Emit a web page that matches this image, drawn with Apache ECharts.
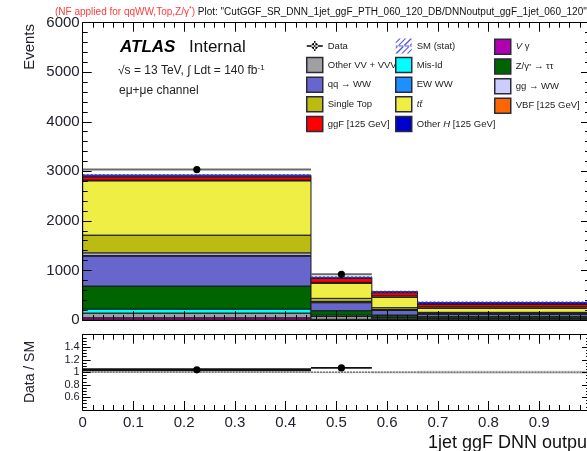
<!DOCTYPE html>
<html><head><meta charset="utf-8">
<script src="https://cdn.jsdelivr.net/npm/echarts@6/dist/echarts.min.js"></script>
<style>html,body{margin:0;padding:0;background:#fff}#c{width:587px;height:451px}</style>
</head><body><div id="c"></div>
<script>
// ---- data ----
const binEdges   = [0, 0.45, 0.57, 0.66, 1.0];
const vgamma     = [45, 15, 10, 5];
const otherVV    = [95, 55, 30, 20];
const misId      = [80, 30, 15, 12];
const zTauTau    = [465, 88, 45, 30];
const qqWW       = [605, 162, 95, 54];
const ewWW       = [15, 8, 5, 4];
const ggWW       = [50, 18, 12, 10];
const singleTop  = [358, 61, 37, 20];
const ttbar      = [1096, 303, 208, 80];
const vbf        = [15, 20, 30, 30];
const ggF        = [66, 80, 65, 52];
const otherH     = [30, 20, 20, 35];
const smStat     = [22, 12, 10, 8];
const dataBins   = [0, 1];
const dataValues = [3035, 921];
const dataErr    = [55, 30];
const ratioValues= [1.04, 1.07];
const ratioErr   = [0.02, 0.035];
const smRatioErr = [0.008, 0.014, 0.018, 0.024];

const FONT = "'Liberation Sans', Arial, sans-serif";
const procs = [
  ['Vgamma', vgamma, '#b000b0'],
  ['OtherVV', otherVV, '#a0a0a0'],
  ['MisId', misId, '#00ffff'],
  ['Ztautau', zTauTau, '#006400'],
  ['qqWW', qqWW, '#6666cc'],
  ['EWWW', ewWW, '#1e8fff'],
  ['ggWW', ggWW, '#ccccff'],
  ['SingleTop', singleTop, '#bbbb14'],
  ['ttbar', ttbar, '#eeee44'],
  ['VBF', vbf, '#ff6600'],
  ['ggF', ggF, '#ff0000'],
  ['OtherH', otherH, '#0000cc']
];
const labels = {
  Data: '{n|Data}', SMstat: '{n|SM (stat)}', Vgamma: '{i|V}{n| γ}', OtherVV: '{n|Other VV + VVV}',
  MisId: '{n|Mis-Id}', Ztautau: '{n|Z/γ}{s|*}{n| → ττ}', qqWW: '{n|qq → WW}', EWWW: '{n|EW WW}', ggWW: '{n|gg → WW}',
  SingleTop: '{n|Single Top}', ttbar: '{i|tt̄}', VBF: '{n|VBF [125 GeV]}', ggF: '{n|ggF [125 GeV]}',
  OtherH: '{n|Other }{i|H}{n| [125 GeV]}'
};

const series = [];
const base = binEdges.slice(0, -1).map(() => 0);
procs.forEach(([name, vals, color]) => {
  const data = vals.map((v, i) => [binEdges[i], binEdges[i + 1], base[i], base[i] + v]);
  vals.forEach((v, i) => base[i] += v);
  series.push({
    type: 'custom', name, xAxisIndex: 0, yAxisIndex: 0, z: 2,
    itemStyle: { color },
    data, encode: { x: [0, 1], y: [2, 3] },
    renderItem: (p, api) => {
      const a = api.coord([api.value(0), api.value(3)]);
      const b = api.coord([api.value(1), api.value(2)]);
      return { type: 'rect', shape: { x: a[0], y: a[1], width: b[0] - a[0], height: b[1] - a[1] },
        style: { fill: color, stroke: '#1a1a1a', lineWidth: 1 } };
    }
  });
});
// SM stat band on top of the stack
series.push({
  type: 'custom', name: 'SMstat', xAxisIndex: 0, yAxisIndex: 0, z: 3,
  itemStyle: { color: '#5a5ae0' },
  data: smStat.map((e, i) => [binEdges[i], binEdges[i + 1], base[i] - e, base[i] + e, base[i]]),
  encode: { x: [0, 1], y: [2, 3] },
  renderItem: (p, api) => {
    const a = api.coord([api.value(0), api.value(3)]);
    const b = api.coord([api.value(1), api.value(2)]);
    const c = api.coord([api.value(0), api.value(4)]);
    return { type: 'group', children: [
      { type: 'rect', shape: { x: a[0], y: a[1], width: b[0] - a[0], height: Math.max(1, b[1] - a[1]) },
        style: { fill: 'rgba(70,70,220,0.45)' } },
      { type: 'line', shape: { x1: a[0], y1: c[1], x2: b[0], y2: c[1] },
        style: { stroke: '#3030d0', lineWidth: 2, lineDash: [2, 2] } }
    ]};
  }
});
// Data points
series.push({
  type: 'custom', name: 'Data', xAxisIndex: 0, yAxisIndex: 0, z: 5,
  itemStyle: { color: '#000' },
  data: dataBins.map((b, i) => [binEdges[b], binEdges[b + 1], dataValues[i], dataErr[i]]),
  encode: { x: [0, 1], y: 2 },
  renderItem: (p, api) => {
    const x0 = api.value(0), x1 = api.value(1), y = api.value(2), e = api.value(3);
    const l = api.coord([x0, y]), r = api.coord([x1, y]);
    const m = api.coord([(x0 + x1) / 2, y]);
    const up = api.coord([(x0 + x1) / 2, y + e]), dn = api.coord([(x0 + x1) / 2, y - e]);
    return { type: 'group', children: [
      { type: 'line', shape: { x1: l[0], y1: l[1], x2: r[0], y2: r[1] }, style: { stroke: '#6a6a6a', lineWidth: 2 } },
      { type: 'line', shape: { x1: up[0], y1: up[1], x2: dn[0], y2: dn[1] }, style: { stroke: '#000', lineWidth: 1.5 } },
      { type: 'circle', shape: { cx: m[0], cy: m[1], r: 3.6 }, style: { fill: '#000' } }
    ]};
  }
});
// Ratio band + line at 1
series.push({
  type: 'custom', name: 'ratioBand', xAxisIndex: 2, yAxisIndex: 2, z: 2,
  data: smRatioErr.map((e, i) => [binEdges[i], binEdges[i + 1], 1 - e, 1 + e]),
  encode: { x: [0, 1], y: [2, 3] },
  renderItem: (p, api) => {
    const a = api.coord([api.value(0), api.value(3)]);
    const b = api.coord([api.value(1), api.value(2)]);
    const c = api.coord([api.value(0), 1]);
    return { type: 'group', children: [
      { type: 'rect', shape: { x: a[0], y: a[1], width: b[0] - a[0], height: Math.max(1, b[1] - a[1]) },
        style: { fill: 'rgba(120,120,120,0.35)' } },
      { type: 'line', shape: { x1: a[0], y1: c[1], x2: b[0], y2: c[1] },
        style: { stroke: '#777', lineWidth: 1.5, lineDash: [2, 1] } }
    ]};
  }
});
series.push({
  type: 'custom', name: 'ratio', xAxisIndex: 2, yAxisIndex: 2, z: 5,
  data: dataBins.map((b, i) => [binEdges[b], binEdges[b + 1], ratioValues[i], ratioErr[i]]),
  encode: { x: [0, 1], y: 2 },
  renderItem: (p, api) => {
    const x0 = api.value(0), x1 = api.value(1), y = api.value(2), e = api.value(3);
    const l = api.coord([x0, y]), r = api.coord([x1, y]);
    const m = api.coord([(x0 + x1) / 2, y]);
    const up = api.coord([(x0 + x1) / 2, y + e]), dn = api.coord([(x0 + x1) / 2, y - e]);
    return { type: 'group', children: [
      { type: 'line', shape: { x1: l[0], y1: l[1], x2: r[0], y2: r[1] }, style: { stroke: '#111', lineWidth: p.dataIndex === 0 ? 3 : 1.8 } },
      { type: 'line', shape: { x1: up[0], y1: up[1], x2: dn[0], y2: dn[1] }, style: { stroke: '#000', lineWidth: 1.5 } },
      { type: 'circle', shape: { cx: m[0], cy: m[1], r: 3.6 }, style: { fill: '#000' } }
    ]};
  }
});

function xAx(grid, pos, showLabel) {
  return {
    type: 'value', gridIndex: grid, position: pos, min: 0, max: 1, interval: 0.1, z: 10,
    axisLine: { show: true, onZero: false, lineStyle: { color: '#000', width: 1 } },
    axisTick: { show: true, inside: true, length: 9, lineStyle: { color: '#000' } },
    minorTick: { show: true, splitNumber: 5, length: 5, lineStyle: { color: '#000' } },
    splitLine: { show: false },
    axisLabel: { show: showLabel, fontSize: 15, fontFamily: FONT, color: '#22222e', margin: 5, showMaxLabel: false,
      formatter: v => String(+v.toFixed(1)) }
  };
}
function yAx(grid, pos, min, max, interval, showLabel, fs, minorN) {
  return {
    type: 'value', gridIndex: grid, position: pos, min, max, interval, z: 10,
    axisLine: { show: true, onZero: false, lineStyle: { color: '#000', width: 1 } },
    axisTick: { show: true, inside: true, length: grid === 0 ? 9 : 8, lineStyle: { color: '#000' } },
    minorTick: { show: true, splitNumber: minorN, length: grid === 0 ? 5 : 4, lineStyle: { color: '#000' } },
    splitLine: { show: false },
    axisLabel: { show: showLabel, fontSize: fs, fontFamily: FONT, color: '#22222e', margin: 3,
      showMinLabel: grid === 0, showMaxLabel: grid === 0,
      formatter: v => String(+v.toFixed(1)) }
  };
}

const rs = (extra) => Object.assign({ fontSize: 9.5, fontFamily: FONT, color: '#222', lineHeight: 15, height: 15 }, extra || {});
const legendBase = {
  orient: 'vertical', top: 38.5, itemWidth: 16, itemHeight: 15, itemGap: 3.2, padding: 0, icon: 'rect',
  selectedMode: false,
  itemStyle: { borderColor: '#2a2a3a', borderWidth: 1.5 },
  textStyle: { fontSize: 9.5, fontFamily: FONT, color: '#222', lineHeight: 15, height: 15,
    rich: { i: rs({ fontStyle: 'italic' }), n: rs(), s: rs({ fontSize: 6, lineHeight: 9, verticalAlign: 'top' }) } },
  formatter: n => labels[n]
};
const dataIcon = 'path://M0,6.8h16v1.4h-16z M7.3,2.5h1.4v10h-1.4z M8,4.3a3.2,3.2 0 1,0 0.001,0z';
const smIcon = 'path://M0,15L1.6,15L16,0.6L16,0L14.6,0L0,14.4Z M0,9L0,10.6L10.6,0L9,0Z M0,3.5L0,5.1L5.1,0L3.5,0Z M5.5,15L7.1,15L16,6.1L16,4.5Z M11,15L12.6,15L16,11.6L16,10Z M0,6.9h16v1.2h-16z';

const option = {
  animation: false,
  grid: [
    { left: 82.7, top: 22.7, width: 507.3, height: 297.3, outerBoundsMode: 'none' },
    { left: 82.7, top: 334.7, width: 507.3, height: 75.3, outerBoundsMode: 'none' }
  ],
  xAxis: [xAx(0, 'bottom', false), xAx(0, 'top', false), xAx(1, 'bottom', true), xAx(1, 'top', false)],
  yAxis: [yAx(0, 'left', 0, 6000, 1000, true, 15, 5), yAx(0, 'right', 0, 6000, 1000, false, 15, 5),
          yAx(1, 'left', 0.4, 1.6, 0.2, true, 11, 4), yAx(1, 'right', 0.4, 1.6, 0.2, false, 11, 4)],
  legend: [
    Object.assign({}, legendBase, { left: 306, data: [
      { name: 'Data', icon: dataIcon, itemStyle: { color: '#000', borderWidth: 0 } },
      'OtherVV', 'qqWW', 'SingleTop', 'ggF'] }),
    Object.assign({}, legendBase, { left: 395, data: [
      { name: 'SMstat', icon: smIcon, itemStyle: { color: '#5a5ae0', borderWidth: 0 } },
      'MisId', 'EWWW', 'ttbar', 'OtherH'] }),
    Object.assign({}, legendBase, { left: 494, data: ['Vgamma', 'Ztautau', 'ggWW', 'VBF'] })
  ],
  graphic: [
    { type: 'text', x: 55, y: 12, style: {
      text: '{r|(NF applied for qqWW,Top,Z/γ}{rs|*}{r|)} {k|Plot: "CutGGF_SR_DNN_1jet_ggF_PTH_060_120_DB/DNNoutput_ggF_1jet_060_120"}',
      verticalAlign: 'middle', font: '10px ' + FONT,
      rich: { r: { fill: '#ff3a3a', fontSize: 10, fontFamily: FONT },
              rs: { fill: '#ff3a3a', fontSize: 7, fontFamily: FONT, verticalAlign: 'top', padding: [0, 0, 5, 0] },
              k: { fill: '#111', fontSize: 10, fontFamily: FONT } } } },
    { type: 'text', x: 120, y: 47, style: { text: 'ATLAS', verticalAlign: 'middle', fill: '#000',
      font: 'italic bold 17px ' + FONT } },
    { type: 'text', x: 189, y: 47, style: { text: 'Internal', verticalAlign: 'middle', fill: '#111',
      font: '17px ' + FONT } },
    { type: 'text', x: 118, y: 71, style: { text: '√s = 13 TeV, ∫ Ldt = 140 fb{sup|-1}', verticalAlign: 'middle',
      fill: '#222', font: '12px ' + FONT,
      rich: { sup: { fontSize: 8, fill: '#222', fontFamily: FONT, verticalAlign: 'top', padding: [0, 0, 6, 0] } } } },
    { type: 'text', x: 119, y: 91, style: { text: 'eμ+μe channel', verticalAlign: 'middle', fill: '#222',
      font: '12px ' + FONT } },
    { type: 'text', x: 30, y: 24, rotation: Math.PI / 2, style: { text: 'Events', align: 'right',
      verticalAlign: 'middle', fill: '#22222e', font: '15px ' + FONT } },
    { type: 'text', x: 30, y: 372, rotation: Math.PI / 2, style: { text: 'Data / SM', align: 'center',
      verticalAlign: 'middle', fill: '#22222e', font: '14px ' + FONT } },
    { type: 'text', x: 428, y: 443, style: { text: '1jet ggF DNN output', align: 'left',
      verticalAlign: 'middle', fill: '#111', font: '18px ' + FONT } }
  ],
  series
};
const chart = echarts.init(document.getElementById('c'), null, { renderer: 'canvas' });
chart.setOption(option);
</script>
</body></html>
